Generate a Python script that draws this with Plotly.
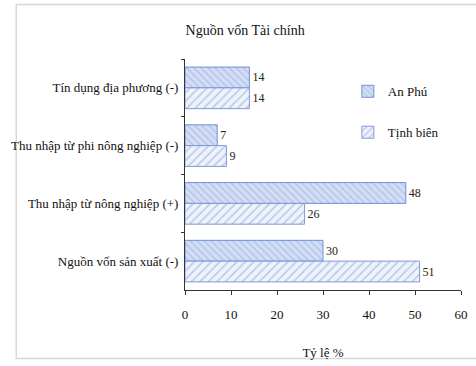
import plotly.graph_objects as go

categories = ["Tín dụng địa phương (-)", "Thu nhập từ phi nông nghiệp (-)",
              "Thu nhập từ nông nghiệp (+)", "Nguồn vốn sản xuất (-)"]
an_phu = [14, 7, 48, 30]
tinh_bien = [14, 9, 26, 51]
x_ticks = [0, 10, 20, 30, 40, 50, 60]

FONT = "Liberation Serif"

fig = go.Figure()
fig.add_trace(go.Bar(
    name="An Phú", y=categories, x=an_phu, orientation="h", legendgroup="a",
    text=an_phu, textposition="outside", cliponaxis=False,
    textfont=dict(family=FONT, size=12, color="#222"),
    marker=dict(color="#d3ddf4", line=dict(color="#6f8fd6", width=1),
                pattern=dict(shape="\\", fgcolor="#8aa3de", bgcolor="#d3ddf4",
                             size=5, solidity=0.25)),
))
fig.add_trace(go.Bar(
    name="Tịnh biên", y=categories, x=tinh_bien, orientation="h", legendgroup="b",
    text=tinh_bien, textposition="outside", cliponaxis=False,
    textfont=dict(family=FONT, size=12, color="#222"),
    marker=dict(color="#eef2fb", line=dict(color="#7f9ad8", width=1),
                pattern=dict(shape="/", fgcolor="#7f9ad8", bgcolor="#eef2fb",
                             size=6, solidity=0.25)),
))

fig.update_layout(
    width=476, height=366,
    margin=dict(l=185, r=8, t=59, b=74),
    paper_bgcolor="white", plot_bgcolor="white",
    barmode="group", bargap=0.28, bargroupgap=0,
    font=dict(family=FONT, size=13, color="#111"),
    title=dict(text="Nguồn vốn Tài chính", x=0.515, xanchor="center",
               y=1 - 30 / 366, yanchor="middle",
               font=dict(family=FONT, size=14, color="#111")),
    showlegend=True,
    legend=dict(x=0.59, y=0.925, xanchor="left", yanchor="top",
                traceorder="grouped", bgcolor="rgba(0,0,0,0)",
                font=dict(family=FONT, size=13), itemwidth=30,
                tracegroupgap=21),
    xaxis=dict(range=[0, 60], tickvals=x_ticks, showgrid=False,
               showline=True, linecolor="#333", linewidth=1,
               ticks="outside", ticklen=4, tickcolor="#333",
               ticklabelstandoff=8, zeroline=False,
               tickfont=dict(family=FONT, size=13),
               title=dict(text="Tỷ lệ %", standoff=27,
                          font=dict(family=FONT, size=13))),
    yaxis=dict(autorange="reversed", showgrid=False,
               showline=True, linecolor="#333", linewidth=1,
               ticks="outside", tickson="boundaries", ticklen=3,
               tickcolor="#333", ticklabelstandoff=3,
               tickfont=dict(family=FONT, size=13)),
    shapes=[dict(type="rect", xref="paper", yref="paper",
                 x0=-173 / 283, x1=1.1, y0=-(361 - 292) / 233, y1=1 + (59 - 4) / 233,
                 line=dict(color="#d8d8d8", width=1.5), layer="below")],
)

fig.write_html("out.html")
